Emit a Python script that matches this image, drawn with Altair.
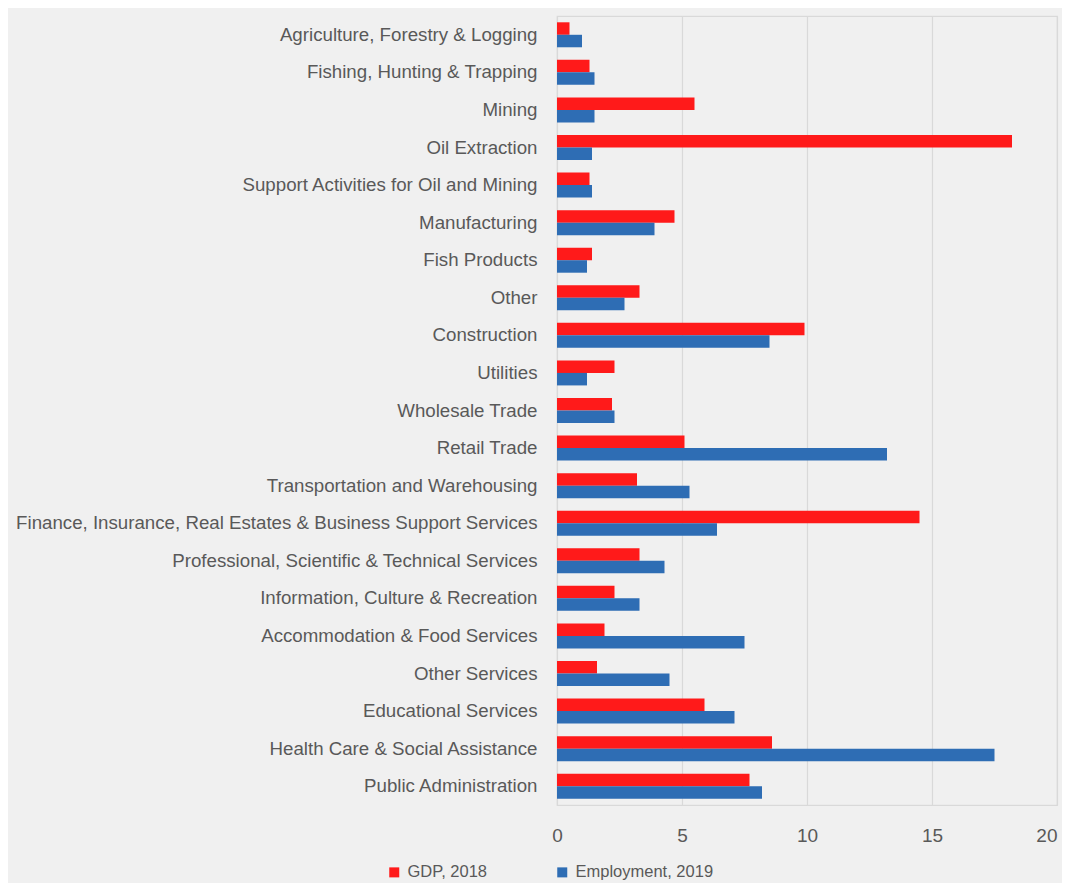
import altair as alt
import pandas as pd

categories = [
    "Agriculture, Forestry & Logging",
    "Fishing, Hunting & Trapping",
    "Mining",
    "Oil Extraction",
    "Support Activities for Oil and Mining",
    "Manufacturing",
    "Fish Products",
    "Other",
    "Construction",
    "Utilities",
    "Wholesale Trade",
    "Retail Trade",
    "Transportation and Warehousing",
    "Finance, Insurance, Real Estates & Business Support Services",
    "Professional, Scientific & Technical Services",
    "Information, Culture & Recreation",
    "Accommodation & Food Services",
    "Other Services",
    "Educational Services",
    "Health Care & Social Assistance",
    "Public Administration",
]
gdp_2018 = [0.5, 1.3, 5.5, 18.2, 1.3, 4.7, 1.4, 3.3, 9.9, 2.3, 2.2, 5.1, 3.2,
            14.5, 3.3, 2.3, 1.9, 1.6, 5.9, 8.6, 7.7]
employment_2019 = [1.0, 1.5, 1.5, 1.4, 1.4, 3.9, 1.2, 2.7, 8.5, 1.2, 2.3, 13.2,
                   5.3, 6.4, 4.3, 3.3, 7.5, 4.5, 7.1, 17.5, 8.2]
series_names = ["GDP, 2018", "Employment, 2019"]
series_colors = ["#ff1a1a", "#2e6db4"]

rows = []
for c, g, e in zip(categories, gdp_2018, employment_2019):
    rows.append({"category": c, "series": series_names[0], "value": g})
    rows.append({"category": c, "series": series_names[1], "value": e})
df = pd.DataFrame(rows)

FONT = "Liberation Sans"
TEXT = "#595959"

chart = alt.Chart(df).mark_bar().encode(
    y=alt.Y("category:N", sort=categories,
            scale=alt.Scale(paddingInner=0.335, paddingOuter=0.1675),
            axis=alt.Axis(title=None, ticks=False, domain=False, labelPadding=20,
                          labelFontSize=18.7, labelColor=TEXT, labelFont=FONT,
                          labelLimit=600)),
    yOffset=alt.YOffset("series:N", sort=series_names),
    x=alt.X("value:Q", scale=alt.Scale(domain=[0, 20]),
            axis=alt.Axis(title=None, values=[0, 5, 10, 15, 20], ticks=False,
                          domain=False, labelPadding=21, labelFontSize=19,
                          labelFlush=False,
                          labelAlign=alt.expr("datum.value == 20 ? 'right' : 'center'"),
                          labelColor=TEXT, labelFont=FONT,
                          gridColor="#d9d9d9", gridWidth=1.2)),
    color=alt.Color("series:N", sort=series_names,
                    scale=alt.Scale(domain=series_names, range=series_colors),
                    legend=alt.Legend(title=None, orient="none", direction="horizontal",
                                      legendX=-171, legendY=848,
                                      symbolType="square", symbolSize=100,
                                      symbolStrokeWidth=0,
                                      labelFontSize=16.5, labelColor=TEXT, labelFont=FONT,
                                      columnPadding=66, labelOffset=5)),
).properties(
    width=500, height=789,
    background="#f0f0f0",
    padding={"left": 549, "top": 8, "right": 5, "bottom": 78},
    autosize=alt.AutoSizeParams(type="none"),
).configure_view(stroke="#d9d9d9", strokeWidth=1.2)

chart.save("out.html", embed_options={"renderer": "svg", "actions": False})
